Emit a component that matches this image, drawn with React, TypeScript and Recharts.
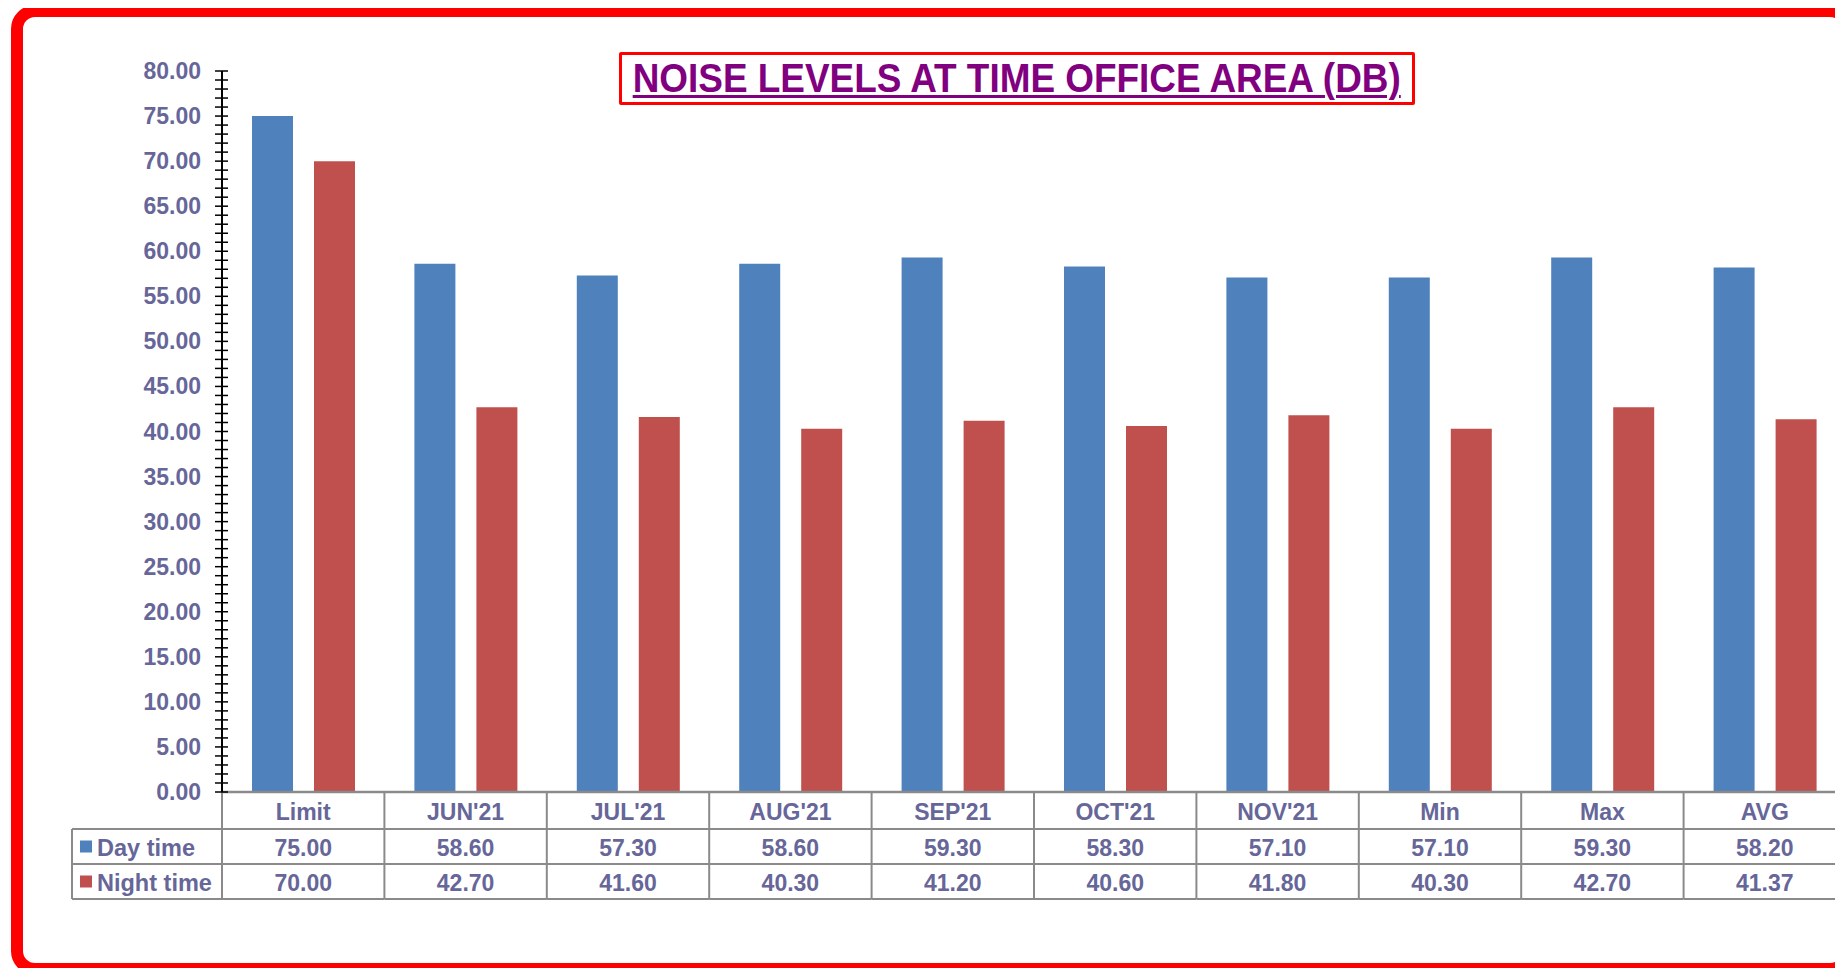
import React from 'react';
import { BarChart, Bar, XAxis, YAxis } from 'recharts';

const categories = ['Limit', "JUN'21", "JUL'21", "AUG'21", "SEP'21", "OCT'21", "NOV'21", 'Min', 'Max', 'AVG'];
const dayTime = [75.0, 58.6, 57.3, 58.6, 59.3, 58.3, 57.1, 57.1, 59.3, 58.2];
const nightTime = [70.0, 42.7, 41.6, 40.3, 41.2, 40.6, 41.8, 40.3, 42.7, 41.37];
const majorTicks = [0, 5, 10, 15, 20, 25, 30, 35, 40, 45, 50, 55, 60, 65, 70, 75, 80];
// minor tick every 1 dB between the labelled ones
const allTicks = Array.from({ length: 81 }, (_, i) => i);

const FONT = '"Liberation Sans", Arial, sans-serif';
const TEXT = '#666699';
const GRID = '#8a8a8a';
const DAY = '#4F81BD';
const NIGHT = '#C0504D';

const CHART_W = 1850;
const CHART_H = 968;
const Y_AXIS_W = 222;
const MARGIN = { top: 71, right: 4, bottom: 66, left: 0 };
const BAND = (CHART_W - Y_AXIS_W - MARGIN.left - MARGIN.right) / categories.length;
const TABLE_LEFT = 72;

const chartData = categories.map((name, i) => ({
  name,
  day: dayTime[i],
  night: nightTime[i],
}));

const textStyle = { fontFamily: FONT, fontWeight: 700, fontSize: 23, fill: TEXT } as const;

const YTick = (props: any) => {
  const { x, y, payload } = props;
  const v = payload.value as number;
  return (
    <g>
      <line x1={x - 7} x2={x + 6} y1={y} y2={y} stroke="#000" strokeWidth={1.5} />
      {majorTicks.includes(v) && (
        <text x={x - 21} y={y} textAnchor="end" dominantBaseline="central" style={textStyle}>
          {v.toFixed(2)}
        </text>
      )}
    </g>
  );
};

const TableTick = (props: any) => {
  const { x, y, payload } = props;
  const i = categories.indexOf(payload.value);
  const left = x - BAND / 2;
  const right = x + BAND / 2;
  const r1 = y + 37;
  const r2 = y + 72;
  const r3 = y + 107;
  const lineStart = i === 0 ? TABLE_LEFT : left;
  return (
    <g>
      <line x1={right} x2={right} y1={y} y2={r3} stroke={GRID} strokeWidth={2} />
      <line x1={lineStart} x2={right} y1={r1} y2={r1} stroke={GRID} strokeWidth={2} />
      <line x1={lineStart} x2={right} y1={r2} y2={r2} stroke={GRID} strokeWidth={2} />
      <line x1={lineStart} x2={right} y1={r3} y2={r3} stroke={GRID} strokeWidth={2} />
      {i === 0 && (
        <g>
          <line x1={left} x2={left} y1={y} y2={r3} stroke={GRID} strokeWidth={2} />
          <line x1={TABLE_LEFT} x2={TABLE_LEFT} y1={r1} y2={r3} stroke={GRID} strokeWidth={2} />
          <rect x={80} y={(r1 + r2) / 2 - 6} width={12} height={12} fill={DAY} />
          <text x={97} y={(r1 + r2) / 2 + 1} dominantBaseline="central" style={{ ...textStyle, fontSize: 23.5 }}>Day time</text>
          <rect x={80} y={(r2 + r3) / 2 - 6} width={12} height={12} fill={NIGHT} />
          <text x={97} y={(r2 + r3) / 2 + 1} dominantBaseline="central" style={{ ...textStyle, fontSize: 23.5 }}>Night time</text>
        </g>
      )}
      <text x={x} y={(y + r1) / 2 + 1} textAnchor="middle" dominantBaseline="central" style={textStyle}>
        {payload.value}
      </text>
      <text x={x} y={(r1 + r2) / 2 + 1} textAnchor="middle" dominantBaseline="central" style={textStyle}>
        {dayTime[i].toFixed(2)}
      </text>
      <text x={x} y={(r2 + r3) / 2 + 1} textAnchor="middle" dominantBaseline="central" style={textStyle}>
        {nightTime[i].toFixed(2)}
      </text>
    </g>
  );
};

const App = () => {
  return (
    <div
      style={{
        position: 'relative',
        marginLeft: -8,
        marginTop: -8,
        width: 1843,
        height: 968,
        overflow: 'hidden',
        background: '#fff',
        fontFamily: FONT,
      }}
    >
      <div
        style={{
          position: 'absolute',
          left: 11,
          top: 5,
          width: 1843,
          height: 970,
          boxSizing: 'border-box',
          border: '12px solid #FF0000',
          borderRadius: 24,
        }}
      />
      <div style={{ position: 'absolute', left: 0, top: 0 }}>
        <BarChart width={CHART_W} height={CHART_H} data={chartData} margin={MARGIN} barSize={41} barGap={21}>
          <XAxis
            dataKey="name"
            height={110}
            interval={0}
            tickSize={0}
            tickMargin={0}
            tickLine={false}
            axisLine={{ stroke: GRID, strokeWidth: 2.5 }}
            tick={<TableTick />}
          />
          <YAxis
            width={Y_AXIS_W}
            domain={[0, 80]}
            ticks={allTicks}
            interval={0}
            tickSize={0}
            tickMargin={0}
            tickLine={false}
            axisLine={{ stroke: '#000', strokeWidth: 2 }}
            tick={<YTick />}
          />
          <Bar dataKey="day" name="Day time" fill={DAY} isAnimationActive={false} />
          <Bar dataKey="night" name="Night time" fill={NIGHT} isAnimationActive={false} />
        </BarChart>
      </div>
      <div
        style={{
          position: 'absolute',
          left: 619,
          top: 52,
          width: 796,
          height: 53,
          boxSizing: 'border-box',
          border: '3px solid #FF0000',
          borderRadius: 2,
          display: 'flex',
          alignItems: 'center',
          justifyContent: 'center',
        }}
      >
        <span
          style={{
            display: 'inline-block',
            color: '#800080',
            fontWeight: 700,
            fontSize: 41,
            lineHeight: 1,
            whiteSpace: 'nowrap',
            textDecoration: 'underline',
            textDecorationThickness: 3,
            textUnderlineOffset: 3,
            transform: 'scaleX(0.9)',
          }}
        >
          NOISE LEVELS AT TIME OFFICE AREA (DB)
        </span>
      </div>
    </div>
  );
};

export default App;
